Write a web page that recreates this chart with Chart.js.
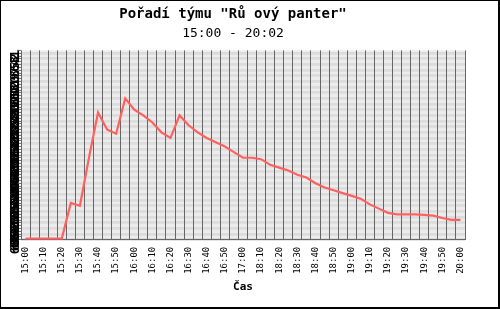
<!DOCTYPE html>
<html>
<head>
<meta charset="utf-8">
<script src="https://cdn.jsdelivr.net/npm/chart.js@4/dist/chart.umd.min.js"></script>
<style>
  html, body { margin: 0; padding: 0; background: #fff; }
  #wrap {
    box-sizing: border-box;
    width: 500px; height: 309px;
    border-style: solid; border-color: #000;
    border-width: 1px 2px 2px 1px;
    position: relative;
  }
</style>
</head>
<body>
<div id="wrap"><canvas id="rank-chart"></canvas></div>
<script>
// time slots (every other one is labelled on the axis)
const times = [
    '15:00', '15:05', '15:10', '15:15', '15:20', '15:25', '15:30', '15:35', '15:40', '15:45',
    '15:50', '15:55', '16:00', '16:05', '16:10', '16:15', '16:20', '16:25', '16:30', '16:35',
    '16:40', '16:45', '16:50', '16:55', '17:00', '18:05', '18:10', '18:15', '18:20', '18:25',
    '18:30', '18:35', '18:40', '18:45', '18:50', '18:55', '19:00', '19:05', '19:10', '19:15',
    '19:20', '19:25', '19:30', '19:35', '19:40', '19:45', '19:50', '19:55', '20:00'
];

// team rank at each slot
const rank = [
    67.6, 67.6, 67.6, 67.6, 67.6, 55, 56, 39, 23, 29,
    30.5, 18, 22, 24, 26.5, 30, 32, 24, 27.5, 30,
    32, 33.5, 35, 37, 39, 39, 39.5, 41.5, 42.5, 43.5,
    45, 46, 48, 49.5, 50.5, 51.5, 52.5, 53.5, 55.5, 57,
    58.5, 59, 59, 59, 59.2, 59.5, 60.3, 61, 61
];

const rankMin = 1;
const rankMax = 68;

const mono = "'DejaVu Sans Mono', 'Liberation Mono', monospace";

// grey plot background behind the stripes
const plotBackground = {
    id: 'plotBackground',
    beforeDraw(chart) {
        const { ctx, chartArea: a } = chart;
        ctx.save();
        ctx.fillStyle = '#ececec';
        ctx.fillRect(a.left, a.top, a.right - a.left, a.bottom - a.top);
        ctx.restore();
    }
};

const canvas = document.querySelector('#rank-chart');

new Chart(canvas.getContext('2d'), {
    type: 'line',
    data: {
        labels: times,
        datasets: [{
            label: 'Pořadí',
            data: rank,
            borderColor: '#ff6060',
            backgroundColor: '#ff6060',
            borderWidth: 2.2,
            pointRadius: 0,
            tension: 0,
            fill: false
        }]
    },
    options: {
        responsive: true,
        maintainAspectRatio: false,
        animation: false,
        layout: { padding: { left: 0, right: 33, top: 0, bottom: 13 } },
        plugins: {
            legend: { display: false },
            tooltip: { enabled: false },
            title: {
                display: true,
                text: 'Pořadí týmu "Rů ový panter"',
                color: '#000',
                font: { family: mono, size: 14, weight: 'bold' },
                padding: { top: 5, bottom: 3 }
            },
            subtitle: {
                display: true,
                text: '15:00 - 20:02',
                color: '#000',
                font: { family: mono, size: 13, weight: 'normal' },
                padding: { top: 0, bottom: 9 }
            }
        },
        scales: {
            // y first so its stripes sit under the vertical grid lines
            y: {
                reverse: true,
                min: rankMin,
                max: rankMax,
                afterFit: s => { s.width = 20; },
                grid: {
                    color: ctx => (ctx.index % 2 === 0 ? '#dcdcdc' : 'rgba(0,0,0,0)'),
                    lineWidth: 2.8,
                    tickColor: '#666',
                    tickWidth: 1,
                    tickLength: 4
                },
                border: { display: false },
                ticks: {
                    stepSize: 1,
                    autoSkip: false,
                    minRotation: 90,
                    maxRotation: 90,
                    padding: 1,
                    color: '#000',
                    font: { family: mono, size: 12, weight: 'bold' }
                }
            },
            x: {
                offset: true,
                grid: {
                    offset: true,
                    color: '#666',
                    lineWidth: 1,
                    drawTicks: false
                },
                border: { display: true, color: '#666' },
                ticks: {
                    autoSkip: false,
                    minRotation: 90,
                    maxRotation: 90,
                    padding: 7,
                    color: '#000',
                    font: { family: mono, size: 9 },
                    callback: function (value, index) {
                        return index % 2 === 0 ? this.getLabelForValue(value) : '';
                    }
                },
                title: {
                    display: true,
                    text: 'Čas',
                    color: '#000',
                    font: { family: mono, size: 11, weight: 'bold' },
                    padding: { top: 0, bottom: 0 }
                }
            }
        }
    },
    plugins: [plotBackground]
});
</script>
</body>
</html>
